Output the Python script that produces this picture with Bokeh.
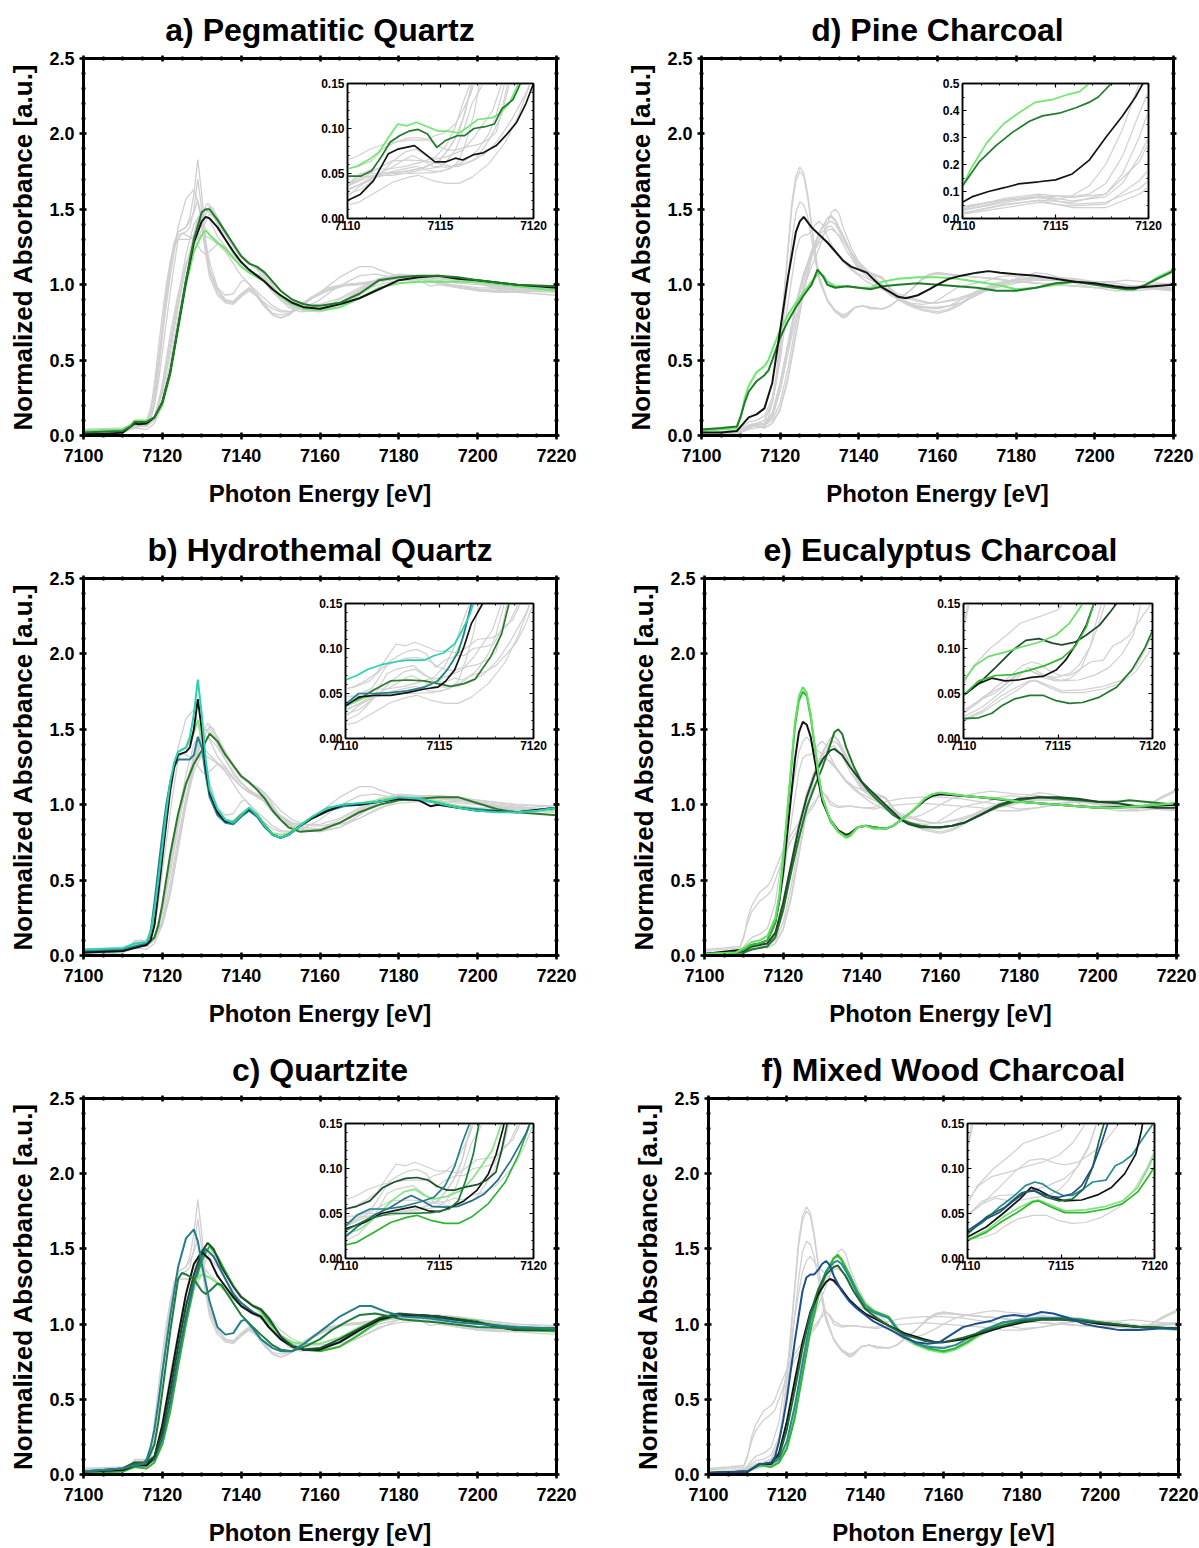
from bokeh.plotting import figure
from bokeh.models import (Range1d, LinearAxis, FixedTicker, PrintfTickFormatter,
                          CustomJSTickFormatter, GridBox)
from bokeh.layouts import column, row
from bokeh.embed import file_html
from bokeh.resources import INLINE

FONT = "Liberation Sans"

# ---------------- texts / ticks ----------------
TITLES = {"a": "a) Pegmatitic Quartz", "b": "b) Hydrothemal Quartz", "c": "c) Quartzite",
          "d": "d) Pine Charcoal", "e": "e) Eucalyptus Charcoal", "f": "f) Mixed Wood Charcoal"}
X_LABEL = "Photon Energy [eV]"
Y_LABEL = "Normalized Absorbance [a.u.]"
X_TICKS = [7100, 7120, 7140, 7160, 7180, 7200, 7220]
Y_TICKS = [0.0, 0.5, 1.0, 1.5, 2.0, 2.5]
INSET_X_TICKS = [7110, 7115, 7120]
INSET_Y_TICKS = [0.0, 0.05, 0.10, 0.15]
D_INSET_Y_TICKS = [0.0, 0.1, 0.2, 0.3, 0.4, 0.5]

# ---------------- a) Pegmatitic Quartz ----------------
A_BLACK = [(7100,0.01),(7105,0.01),(7110,0.02),(7112,0.06),(7113,0.08),(7114,0.075),(7116,0.08),(7118,0.12),(7120,0.22),(7122,0.42),(7124,0.72),(7126,1.02),(7128,1.28),(7130,1.42),(7131,1.45),(7132,1.44),(7134,1.38),(7136,1.30),(7138,1.22),(7140,1.15),(7142,1.10),(7144,1.06),(7146,1.02),(7148,0.97),(7150,0.93),(7153,0.88),(7156,0.85),(7160,0.84),(7165,0.87),(7170,0.91),(7175,0.97),(7180,1.03),(7185,1.05),(7190,1.06),(7195,1.04),(7200,1.03),(7210,1.0),(7220,0.98)]
A_DKGREEN = [(7100,0.02),(7110,0.03),(7112,0.06),(7113,0.09),(7114,0.09),(7116,0.09),(7118,0.12),(7120,0.22),(7122,0.42),(7124,0.72),(7126,1.03),(7128,1.3),(7130,1.48),(7131,1.5),(7132,1.5),(7134,1.43),(7136,1.35),(7138,1.27),(7140,1.19),(7142,1.14),(7144,1.12),(7146,1.08),(7148,1.02),(7150,0.96),(7153,0.9),(7156,0.87),(7158,0.86),(7160,0.86),(7165,0.88),(7170,0.94),(7175,1.03),(7180,1.05),(7185,1.06),(7190,1.06),(7195,1.05),(7200,1.03),(7210,1.0),(7220,0.99)]
A_LTGREEN = [(7100,0.03),(7110,0.04),(7112,0.07),(7113,0.1),(7114,0.1),(7116,0.1),(7118,0.12),(7120,0.2),(7122,0.4),(7124,0.7),(7126,1.0),(7128,1.22),(7130,1.33),(7131,1.36),(7132,1.33),(7134,1.28),(7136,1.24),(7138,1.18),(7140,1.12),(7142,1.08),(7144,1.05),(7146,1.02),(7148,0.97),(7150,0.92),(7153,0.87),(7156,0.84),(7160,0.83),(7165,0.85),(7170,0.91),(7175,0.98),(7180,1.01),(7185,1.02),(7190,1.02),(7195,1.02),(7200,1.02),(7210,0.99),(7220,0.96)]
A_LTGREEN_IN = [(7110,0.055),(7110.5,0.058),(7111.2,0.066),(7111.7,0.074),(7112.2,0.09),(7112.7,0.105),(7113.2,0.103),(7113.7,0.107),(7114.3,0.102),(7114.9,0.097),(7115.4,0.097),(7116,0.095),(7116.5,0.102),(7117,0.11),(7117.8,0.112),(7118.2,0.117),(7118.7,0.128),(7119.2,0.15),(7119.5,0.16)]
A_DKGREEN_IN = [(7110,0.047),(7110.7,0.047),(7111.3,0.053),(7111.8,0.068),(7112.3,0.085),(7112.8,0.092),(7113.3,0.097),(7113.8,0.099),(7114.3,0.094),(7114.8,0.079),(7115.3,0.087),(7115.9,0.092),(7116.3,0.092),(7116.8,0.1),(7117.4,0.102),(7117.9,0.105),(7118.3,0.122),(7118.9,0.132),(7119.3,0.15),(7119.6,0.165)]
A_BLACK_IN = [(7110,0.02),(7110.7,0.027),(7111.4,0.042),(7112.2,0.072),(7112.7,0.077),(7113.6,0.081),(7114.1,0.073),(7114.7,0.063),(7115.3,0.063),(7115.8,0.067),(7116.2,0.065),(7116.8,0.071),(7117.3,0.073),(7118,0.081),(7118.5,0.092),(7119.1,0.107),(7119.6,0.128),(7120,0.15)]

# ---------------- b) Hydrothermal Quartz ----------------
B_CYAN = [(7100,0.04),(7110,0.05),(7113,0.08),(7116,0.09),(7117,0.15),(7118,0.3),(7119,0.5),(7120,0.72),(7121,0.95),(7122,1.15),(7123,1.28),(7124,1.35),(7126,1.38),(7127,1.45),(7128,1.6),(7129,1.83),(7130,1.6),(7131,1.3),(7132,1.1),(7134,0.97),(7136,0.9),(7138,0.88),(7140,0.93),(7142,0.98),(7144,0.93),(7146,0.86),(7148,0.8),(7150,0.78),(7152,0.8),(7155,0.86),(7158,0.92),(7162,0.98),(7166,1.0),(7170,1.01),(7175,1.02),(7180,1.05),(7185,1.04),(7190,1.01),(7195,0.98),(7200,0.96),(7205,0.95),(7210,0.95),(7215,0.96),(7220,0.98)]
B_TEAL = [(7100,0.03),(7110,0.04),(7113,0.06),(7116,0.08),(7117,0.15),(7118,0.35),(7119,0.58),(7120,0.8),(7121,1.0),(7122,1.15),(7123,1.25),(7124,1.3),(7126,1.3),(7127,1.3),(7128,1.33),(7129,1.45),(7130,1.38),(7131,1.2),(7132,1.05),(7134,0.93),(7136,0.88),(7138,0.87),(7140,0.92),(7142,0.96),(7144,0.92),(7146,0.85),(7148,0.8),(7150,0.78),(7152,0.8),(7155,0.86),(7158,0.91),(7162,0.96),(7166,0.99),(7170,1.0),(7175,1.02),(7180,1.04),(7185,1.04),(7190,1.01),(7195,0.98),(7200,0.97),(7210,0.95),(7220,0.98)]
B_BLACK = [(7100,0.02),(7110,0.03),(7113,0.05),(7116,0.07),(7117,0.1),(7118,0.2),(7119,0.42),(7120,0.65),(7121,0.88),(7122,1.1),(7123,1.25),(7124,1.33),(7126,1.35),(7127,1.38),(7128,1.5),(7129,1.7),(7130,1.5),(7131,1.25),(7132,1.08),(7134,0.95),(7136,0.89),(7138,0.88),(7140,0.93),(7142,0.97),(7144,0.93),(7146,0.86),(7148,0.8),(7150,0.78),(7152,0.8),(7155,0.86),(7158,0.91),(7162,0.96),(7166,1.0),(7170,1.0),(7175,1.02),(7180,1.04),(7185,1.03),(7188,0.99),(7190,1.0),(7195,0.98),(7200,0.96),(7210,0.95),(7220,0.98)]
B_LTGREEN = [(7100,0.04),(7110,0.04),(7113,0.07),(7116,0.08),(7117,0.12),(7118,0.25),(7119,0.45),(7120,0.68),(7121,0.92),(7122,1.12),(7123,1.27),(7124,1.35),(7126,1.38),(7127,1.42),(7128,1.48),(7129,1.56),(7130,1.45),(7131,1.25),(7132,1.1),(7134,0.97),(7136,0.9),(7138,0.89),(7140,0.94),(7142,0.98),(7144,0.94),(7146,0.87),(7148,0.81),(7150,0.8),(7152,0.81),(7155,0.87),(7158,0.92),(7162,0.97),(7166,1.0),(7170,1.01),(7175,1.03),(7180,1.05),(7185,1.04),(7190,1.02),(7195,0.99),(7200,0.97),(7210,0.95),(7220,0.97)]
B_DKGREEN = [(7100,0.02),(7110,0.03),(7113,0.06),(7116,0.07),(7118,0.12),(7119,0.2),(7120,0.34),(7122,0.67),(7124,0.94),(7126,1.14),(7128,1.27),(7130,1.36),(7131,1.42),(7132,1.47),(7134,1.42),(7136,1.33),(7138,1.26),(7140,1.19),(7142,1.15),(7144,1.1),(7146,1.04),(7148,0.96),(7150,0.9),(7152,0.85),(7155,0.82),(7160,0.83),(7165,0.88),(7170,0.95),(7175,1.0),(7180,1.03),(7185,1.04),(7190,1.05),(7195,1.05),(7200,1.01),(7205,0.97),(7210,0.95),(7220,0.93)]
B_CYAN_IN = [(7110,0.065),(7110.6,0.07),(7111.2,0.077),(7111.9,0.082),(7112.6,0.085),(7113.3,0.087),(7114.2,0.087),(7114.7,0.092),(7115.2,0.095),(7115.8,0.105),(7116.2,0.12),(7116.6,0.137),(7116.8,0.15),(7117,0.16)]
B_TEAL_IN = [(7110,0.038),(7110.7,0.05),(7111.5,0.05),(7112.4,0.051),(7113.3,0.053),(7114.2,0.057),(7114.9,0.064),(7115.4,0.076),(7116,0.096),(7116.3,0.116),(7116.7,0.15),(7116.9,0.16)]
B_BLACK_IN = [(7110,0.036),(7110.7,0.046),(7111.5,0.048),(7112.4,0.048),(7113.3,0.051),(7114.2,0.055),(7114.9,0.057),(7115.3,0.063),(7115.8,0.076),(7116.3,0.102),(7116.7,0.128),(7117.3,0.15),(7117.5,0.16)]
B_LTGREEN_IN = [(7110,0.036),(7111,0.045),(7112,0.05),(7113,0.052),(7114,0.056),(7115,0.065),(7115.7,0.085),(7116.2,0.11),(7116.7,0.15),(7116.9,0.16)]
B_DKGREEN_IN = [(7110,0.036),(7110.8,0.045),(7111.6,0.055),(7112.4,0.064),(7113.3,0.065),(7114.2,0.064),(7114.9,0.061),(7115.6,0.058),(7116.3,0.061),(7116.9,0.066),(7117.7,0.09),(7118.3,0.116),(7118.7,0.15),(7118.9,0.16)]

# ---------------- c) Quartzite ----------------
C_VDKGREEN = [(7100,0.02),(7110,0.04),(7113,0.08),(7116,0.08),(7118,0.12),(7120,0.28),(7122,0.55),(7124,0.85),(7126,1.12),(7128,1.33),(7130,1.48),(7131.5,1.54),(7133,1.5),(7135,1.38),(7138,1.25),(7140,1.18),(7143,1.12),(7145,1.1),(7147,1.04),(7150,0.92),(7153,0.85),(7156,0.83),(7160,0.84),(7165,0.9),(7170,0.97),(7175,1.04),(7180,1.07),(7185,1.06),(7190,1.05),(7200,1.01),(7210,0.96),(7220,0.96)]
C_BLACK = [(7100,0.02),(7110,0.03),(7113,0.06),(7116,0.06),(7118,0.12),(7120,0.33),(7122,0.62),(7124,0.92),(7126,1.2),(7128,1.4),(7130,1.48),(7132,1.43),(7134,1.32),(7136,1.25),(7138,1.18),(7140,1.12),(7143,1.07),(7145,1.05),(7147,0.98),(7150,0.9),(7153,0.85),(7156,0.83),(7160,0.83),(7165,0.88),(7170,0.96),(7175,1.03),(7180,1.06),(7185,1.06),(7190,1.05),(7200,1.01),(7205,0.98),(7210,0.96),(7220,0.97)]
C_GREEN = [(7100,0.01),(7110,0.02),(7113,0.05),(7116,0.04),(7118,0.08),(7120,0.2),(7122,0.42),(7124,0.72),(7126,1.0),(7128,1.25),(7130,1.42),(7132,1.52),(7134,1.45),(7136,1.35),(7138,1.25),(7140,1.18),(7143,1.12),(7145,1.09),(7147,1.02),(7150,0.92),(7153,0.86),(7156,0.83),(7160,0.82),(7165,0.85),(7170,0.93),(7175,1.02),(7180,1.06),(7185,1.06),(7190,1.05),(7200,1.02),(7205,0.98),(7210,0.96),(7220,0.95)]
C_BLUETEAL = [(7100,0.02),(7110,0.03),(7113,0.07),(7116,0.06),(7118,0.1),(7120,0.24),(7122,0.48),(7124,0.78),(7126,1.05),(7128,1.28),(7130,1.45),(7131,1.5),(7133,1.45),(7135,1.35),(7138,1.2),(7140,1.14),(7143,1.08),(7145,1.05),(7147,0.98),(7150,0.9),(7153,0.85),(7156,0.83),(7160,0.84),(7165,0.88),(7170,0.96),(7175,1.03),(7180,1.06),(7185,1.05),(7190,1.04),(7200,1.01),(7205,0.99),(7210,0.97),(7220,0.97)]
C_LTGREEN = [(7100,0.02),(7110,0.03),(7113,0.07),(7116,0.07),(7118,0.12),(7120,0.3),(7122,0.58),(7124,0.88),(7126,1.12),(7128,1.28),(7130,1.33),(7132,1.31),(7134,1.27),(7136,1.22),(7138,1.17),(7140,1.12),(7143,1.08),(7145,1.06),(7147,1.0),(7150,0.92),(7153,0.88),(7156,0.87),(7160,0.87),(7165,0.91),(7170,0.98),(7175,1.04),(7180,1.06),(7185,1.05),(7190,1.04),(7200,1.01),(7210,0.98),(7220,0.97)]
C_TEAL = [(7100,0.02),(7110,0.04),(7113,0.06),(7115,0.07),(7116,0.1),(7117,0.18),(7118,0.3),(7119,0.48),(7120,0.68),(7122,1.05),(7124,1.38),(7126,1.57),(7128,1.63),(7129,1.55),(7130,1.4),(7132,1.15),(7134,0.98),(7136,0.93),(7138,0.94),(7140,1.02),(7141,1.03),(7143,0.97),(7145,0.9),(7148,0.84),(7150,0.82),(7153,0.82),(7156,0.87),(7160,0.95),(7165,1.05),(7170,1.12),(7173,1.12),(7177,1.08),(7181,1.05),(7187,1.04),(7195,1.01),(7200,1.0),(7210,0.98),(7220,0.97)]
C_DKGREEN = [(7100,0.02),(7110,0.04),(7113,0.07),(7116,0.08),(7118,0.2),(7119,0.35),(7120,0.55),(7122,0.95),(7124,1.3),(7125,1.34),(7126,1.33),(7128,1.3),(7130,1.22),(7131,1.2),(7132,1.22),(7134,1.27),(7135,1.26),(7137,1.18),(7140,1.06),(7143,0.98),(7145,0.93),(7148,0.86),(7150,0.83),(7153,0.82),(7157,0.86),(7160,0.9),(7163,0.96),(7167,1.02),(7170,1.06),(7174,1.07),(7178,1.05),(7181,1.03),(7190,1.01),(7200,0.98),(7210,0.97),(7220,0.96)]
C_VDKGREEN_IN = [(7110,0.055),(7110.6,0.058),(7111.3,0.064),(7112,0.079),(7112.6,0.085),(7113.2,0.089),(7113.8,0.09),(7114.4,0.087),(7114.9,0.08),(7115.4,0.076),(7115.8,0.076),(7116.3,0.079),(7117,0.082),(7117.5,0.087),(7118,0.096),(7118.3,0.12),(7118.6,0.15),(7118.8,0.16)]
C_TEAL_IN = [(7110,0.036),(7110.6,0.048),(7111.3,0.055),(7112.2,0.055),(7113.1,0.058),(7114,0.063),(7114.7,0.068),(7115.3,0.081),(7115.8,0.102),(7116.2,0.128),(7116.6,0.15),(7116.8,0.16)]
C_LTGREEN_IN = [(7110,0.027),(7110.8,0.033),(7111.7,0.048),(7112.4,0.063),(7113.1,0.074),(7113.7,0.077),(7114.2,0.07),(7114.7,0.066),(7115.4,0.069),(7116.2,0.076),(7116.8,0.09),(7117.2,0.102),(7117.8,0.12),(7118.3,0.15),(7118.5,0.16)]
C_BLUETEAL_IN = [(7110,0.024),(7110.6,0.035),(7111.5,0.048),(7112.4,0.057),(7113.1,0.066),(7113.5,0.07),(7114.1,0.064),(7114.6,0.058),(7115.3,0.057),(7116,0.058),(7116.7,0.064),(7117.4,0.072),(7118.1,0.087),(7118.8,0.109),(7119.6,0.139),(7119.8,0.15),(7120,0.155)]
C_BLACK_IN = [(7110,0.033),(7111,0.04),(7111.9,0.05),(7112.8,0.054),(7113.7,0.058),(7114.4,0.053),(7115,0.052),(7115.6,0.057),(7116.3,0.064),(7117,0.076),(7117.6,0.094),(7118,0.115),(7118.4,0.146),(7118.5,0.16)]
C_GREEN_IN = [(7110,0.015),(7110.6,0.018),(7111.5,0.029),(7112.4,0.04),(7113.3,0.046),(7113.8,0.048),(7114.6,0.042),(7115.3,0.039),(7116,0.039),(7116.7,0.046),(7117.6,0.061),(7118.5,0.085),(7119.2,0.115),(7119.7,0.143),(7119.9,0.155)]
C_DKGREEN_IN = [(7110,0.031),(7111.2,0.044),(7112.4,0.05),(7113.3,0.05),(7114.6,0.051),(7115.5,0.055),(7116,0.064),(7116.4,0.087),(7116.8,0.116),(7117.1,0.15),(7117.2,0.16)]

# ---------------- d) Pine Charcoal ----------------
D_BLACK = [(7100,0.02),(7105,0.02),(7109,0.03),(7110,0.06),(7112,0.12),(7114,0.14),(7116,0.18),(7118,0.35),(7120,0.7),(7122,1.05),(7124,1.35),(7125,1.42),(7126,1.45),(7128,1.38),(7130,1.33),(7132,1.28),(7134,1.22),(7136,1.16),(7138,1.12),(7140,1.1),(7142,1.08),(7144,1.03),(7146,0.98),(7148,0.95),(7150,0.92),(7152,0.91),(7155,0.93),(7158,0.97),(7160,1.0),(7163,1.04),(7166,1.06),(7170,1.08),(7173,1.09),(7176,1.08),(7180,1.07),(7185,1.06),(7190,1.04),(7195,1.02),(7200,1.01),(7205,0.99),(7208,0.98),(7210,0.98),(7215,0.99),(7220,1.0)]
D_LTGREEN = [(7100,0.03),(7105,0.04),(7109,0.05),(7110,0.12),(7111,0.25),(7112,0.33),(7114,0.42),(7116,0.46),(7117,0.5),(7118,0.57),(7120,0.7),(7122,0.8),(7124,0.88),(7126,0.95),(7128,1.02),(7130,1.08),(7131,1.06),(7132,1.02),(7134,0.99),(7137,0.99),(7140,0.98),(7143,0.98),(7146,1.02),(7150,1.04),(7155,1.05),(7160,1.05),(7165,1.04),(7170,1.02),(7175,1.0),(7180,0.97),(7185,0.98),(7190,1.0),(7195,1.02),(7200,1.01),(7205,0.98),(7208,0.97),(7210,0.97),(7213,1.0),(7216,1.05),(7220,1.1)]
D_DKGREEN = [(7100,0.04),(7105,0.05),(7109,0.06),(7110,0.13),(7111,0.22),(7112,0.29),(7114,0.36),(7116,0.4),(7117,0.43),(7118,0.5),(7120,0.65),(7122,0.76),(7124,0.85),(7126,0.93),(7128,1.0),(7129.5,1.1),(7131,1.05),(7132,1.0),(7134,0.98),(7137,0.99),(7140,0.98),(7143,0.97),(7146,0.99),(7150,1.0),(7155,1.01),(7160,1.0),(7165,0.99),(7170,0.98),(7175,0.96),(7180,0.96),(7185,0.98),(7190,1.01),(7195,1.02),(7200,1.0),(7205,0.98),(7208,0.97),(7210,0.97),(7213,1.0),(7216,1.04),(7220,1.09)]
D_LTGREEN_IN = [(7110,0.12),(7110.5,0.19),(7111.3,0.28),(7112.2,0.35),(7113,0.39),(7113.9,0.43),(7114.8,0.44),(7115.7,0.46),(7116.3,0.47),(7116.8,0.5),(7117.2,0.53)]
D_DKGREEN_IN = [(7110,0.12),(7110.9,0.21),(7111.8,0.27),(7112.7,0.32),(7113.6,0.36),(7114.3,0.38),(7115.2,0.39),(7116.1,0.41),(7116.8,0.43),(7117.3,0.45),(7118,0.5),(7118.3,0.53)]
D_BLACK_IN = [(7110,0.06),(7110.5,0.08),(7111.4,0.1),(7112.3,0.115),(7113,0.128),(7114.1,0.136),(7115,0.143),(7115.9,0.165),(7116.8,0.215),(7117.7,0.3),(7118.6,0.38),(7119.3,0.45),(7119.7,0.5),(7119.9,0.53)]
D_GREY_IN_1 = [(7110,0.03),(7112.3,0.066),(7114.1,0.078),(7115,0.072),(7116.8,0.09),(7117.7,0.13),(7118.6,0.23),(7119.5,0.39),(7120,0.47)]
D_GREY_IN_2 = [(7110,0.02),(7112.3,0.05),(7114.1,0.068),(7115.9,0.06),(7117.7,0.09),(7118.6,0.165),(7119.5,0.3),(7120,0.4)]
D_GREY_IN_3 = [(7110,0.035),(7112.3,0.076),(7114.1,0.09),(7115.9,0.078),(7117.7,0.09),(7119.5,0.21),(7120,0.28)]
D_GREY_IN_4 = [(7110,0.016),(7112.3,0.04),(7114.1,0.06),(7115.9,0.047),(7117.7,0.053),(7119.5,0.14),(7120,0.18)]
D_GREY_IN_5 = [(7110,0.03),(7112.3,0.06),(7114.1,0.078),(7115.9,0.053),(7117.7,0.06),(7119.5,0.11),(7120,0.14)]
D_GREY_IN_6 = [(7110,0.02),(7112.3,0.053),(7114.1,0.066),(7115.9,0.04),(7117.7,0.04),(7119.5,0.09),(7120,0.115)]
D_GREY_IN_7 = [(7110,0.04),(7112.3,0.07),(7114.1,0.085),(7115.9,0.065),(7117.7,0.08),(7118.6,0.13),(7119.5,0.23),(7120,0.3)]
D_GREY_IN_8 = [(7110,0.045),(7112.3,0.07),(7114.1,0.08),(7115.9,0.085),(7116.8,0.12),(7117.7,0.2),(7118.6,0.33),(7119.5,0.5)]

# ---------------- e) Eucalyptus Charcoal ----------------
E_LTGREEN = [(7100,0.01),(7108,0.02),(7110,0.05),(7112,0.09),(7114,0.1),(7116,0.13),(7118,0.25),(7119,0.4),(7120,0.65),(7121,0.95),(7122,1.25),(7123,1.55),(7124,1.72),(7125,1.78),(7126,1.74),(7127,1.6),(7128,1.4),(7129,1.2),(7130,1.05),(7132,0.9),(7134,0.82),(7136,0.78),(7137,0.79),(7139,0.85),(7141,0.86),(7143,0.84),(7146,0.84),(7148,0.86),(7150,0.9),(7153,0.96),(7156,1.04),(7158,1.07),(7160,1.08),(7163,1.07),(7166,1.06),(7170,1.05),(7175,1.04),(7180,1.02),(7185,1.01),(7190,1.0),(7195,0.99),(7200,0.98),(7205,0.98),(7210,0.99),(7215,1.0),(7220,1.01)]
E_MDGREEN = [(7100,0.01),(7108,0.02),(7110,0.04),(7112,0.07),(7114,0.08),(7116,0.1),(7118,0.22),(7119,0.37),(7120,0.62),(7121,0.92),(7122,1.22),(7123,1.52),(7124,1.69),(7125,1.75),(7126,1.72),(7127,1.58),(7128,1.39),(7129,1.19),(7130,1.04),(7132,0.89),(7134,0.82),(7136,0.79),(7137,0.8),(7139,0.85),(7141,0.86),(7143,0.85),(7146,0.84),(7148,0.86),(7150,0.9),(7153,0.96),(7156,1.04),(7158,1.07),(7160,1.08),(7163,1.07),(7166,1.06),(7170,1.05),(7175,1.04),(7180,1.02),(7185,1.01),(7190,1.0),(7195,0.99),(7200,0.98),(7205,0.98),(7210,0.99),(7215,1.0),(7220,1.01)]
E_BLACK = [(7100,0.01),(7110,0.04),(7112,0.07),(7114,0.08),(7116,0.1),(7118,0.22),(7119,0.36),(7120,0.55),(7121,0.8),(7122,1.05),(7123,1.3),(7124,1.48),(7125,1.55),(7126,1.53),(7127,1.45),(7128,1.3),(7129,1.15),(7130,1.02),(7132,0.9),(7134,0.83),(7136,0.8),(7137,0.81),(7139,0.85),(7141,0.86),(7143,0.85),(7146,0.84),(7148,0.86),(7150,0.9),(7153,0.96),(7156,1.03),(7158,1.06),(7160,1.07),(7165,1.06),(7170,1.05),(7180,1.02),(7190,1.0),(7200,0.98),(7210,0.99),(7220,1.0)]
E_DKGREEN = [(7100,0.01),(7110,0.02),(7112,0.04),(7114,0.05),(7116,0.06),(7118,0.12),(7120,0.3),(7122,0.55),(7124,0.78),(7126,0.98),(7128,1.12),(7130,1.25),(7132,1.4),(7133,1.48),(7134,1.5),(7135,1.47),(7136,1.38),(7138,1.25),(7140,1.15),(7142,1.08),(7144,1.03),(7146,0.98),(7148,0.93),(7150,0.9),(7152,0.88),(7155,0.86),(7158,0.85),(7160,0.85),(7163,0.86),(7166,0.88),(7170,0.93),(7175,0.99),(7180,1.03),(7185,1.05),(7190,1.04),(7195,1.03),(7200,1.02),(7205,1.02),(7208,1.03),(7212,1.02),(7220,1.0)]
E_DKBLACK = [(7100,0.01),(7110,0.03),(7112,0.06),(7114,0.07),(7116,0.08),(7118,0.15),(7120,0.35),(7122,0.6),(7124,0.85),(7126,1.05),(7128,1.2),(7130,1.3),(7132,1.36),(7133,1.37),(7135,1.33),(7137,1.25),(7140,1.15),(7142,1.1),(7144,1.05),(7146,1.0),(7148,0.95),(7150,0.9),(7152,0.87),(7155,0.85),(7158,0.85),(7160,0.85),(7163,0.86),(7166,0.88),(7170,0.93),(7175,1.0),(7180,1.04),(7185,1.05),(7190,1.05),(7195,1.04),(7200,1.02),(7205,1.01),(7210,0.99),(7215,0.98),(7220,0.98)]
E_LTGREEN_IN = [(7110,0.064),(7110.6,0.081),(7111.3,0.091),(7112.2,0.096),(7113.1,0.102),(7114,0.107),(7114.9,0.115),(7115.6,0.128),(7116.1,0.143),(7116.3,0.15),(7116.5,0.16)]
E_MDGREEN_IN = [(7110,0.048),(7110.8,0.064),(7111.7,0.07),(7112.6,0.071),(7113.5,0.076),(7114.3,0.081),(7115.2,0.089),(7115.9,0.102),(7116.5,0.124),(7116.9,0.15),(7117,0.155)]
E_BLACK_IN = [(7110,0.048),(7110.8,0.061),(7111.5,0.067),(7112.2,0.064),(7112.9,0.065),(7113.6,0.068),(7114.2,0.069),(7114.9,0.076),(7115.4,0.087),(7115.9,0.103),(7116.5,0.126),(7116.9,0.15),(7117,0.155)]
E_DKGREEN_IN = [(7110,0.022),(7110.8,0.023),(7111.5,0.028),(7112,0.036),(7112.7,0.044),(7113.5,0.048),(7114.2,0.048),(7114.9,0.042),(7115.6,0.039),(7116.3,0.04),(7117.2,0.046),(7118.1,0.057),(7118.9,0.076),(7119.6,0.101),(7120,0.12)]
E_DKBLACK_IN = [(7110,0.048),(7110.8,0.061),(7111.7,0.079),(7112.6,0.098),(7113.3,0.109),(7114,0.111),(7114.7,0.106),(7115.2,0.104),(7115.9,0.107),(7116.5,0.115),(7117.2,0.126),(7117.7,0.139),(7118.1,0.15),(7118.3,0.155)]

# ---------------- f) Mixed Wood Charcoal ----------------
F_NAVY = [(7100,0.01),(7110,0.02),(7113,0.07),(7114,0.07),(7116,0.08),(7117,0.12),(7118,0.22),(7119,0.35),(7120,0.5),(7122,0.88),(7124,1.22),(7125,1.31),(7126,1.33),(7127,1.33),(7128,1.36),(7129,1.4),(7130,1.42),(7131,1.39),(7132,1.32),(7134,1.22),(7136,1.15),(7138,1.1),(7140,1.06),(7142,1.02),(7145,0.98),(7148,0.94),(7150,0.91),(7153,0.88),(7156,0.87),(7159,0.88),(7162,0.93),(7165,0.98),(7168,1.0),(7172,1.02),(7175,1.05),(7178,1.06),(7181,1.05),(7185,1.08),(7188,1.07),(7192,1.04),(7196,1.0),(7200,0.98),(7205,0.96),(7210,0.96),(7215,0.97),(7220,0.97)]
F_BLACK = [(7100,0.01),(7110,0.02),(7113,0.07),(7114,0.07),(7116,0.07),(7118,0.14),(7120,0.35),(7122,0.62),(7124,0.88),(7126,1.08),(7128,1.2),(7130,1.28),(7131,1.3),(7132,1.29),(7134,1.23),(7136,1.16),(7138,1.11),(7140,1.07),(7143,1.03),(7146,0.99),(7150,0.94),(7155,0.9),(7158,0.88),(7160,0.88),(7165,0.9),(7170,0.94),(7175,0.98),(7180,1.01),(7185,1.03),(7190,1.03),(7195,1.02),(7200,1.0),(7210,0.98),(7220,0.97)]
F_DKGREEN = [(7100,0.01),(7110,0.02),(7113,0.07),(7114,0.07),(7116,0.08),(7118,0.12),(7120,0.3),(7122,0.56),(7124,0.84),(7126,1.07),(7128,1.23),(7130,1.33),(7132,1.38),(7133,1.39),(7135,1.32),(7137,1.22),(7140,1.1),(7143,1.04),(7146,0.99),(7150,0.93),(7155,0.89),(7158,0.88),(7160,0.88),(7165,0.91),(7170,0.95),(7175,0.99),(7180,1.02),(7185,1.03),(7190,1.03),(7200,1.01),(7210,0.98),(7220,0.97)]
F_GREEN = [(7100,0.01),(7110,0.02),(7113,0.06),(7114,0.06),(7116,0.05),(7118,0.08),(7120,0.17),(7122,0.37),(7124,0.66),(7126,0.95),(7128,1.18),(7130,1.34),(7132,1.44),(7133,1.46),(7134,1.43),(7136,1.33),(7138,1.22),(7140,1.13),(7142,1.09),(7144,1.07),(7146,1.05),(7148,0.98),(7150,0.92),(7153,0.87),(7156,0.84),(7160,0.82),(7163,0.84),(7166,0.88),(7170,0.95),(7175,1.01),(7180,1.03),(7185,1.04),(7190,1.04),(7195,1.03),(7200,1.01),(7210,0.98),(7220,0.97)]
F_LTGREEN = [(7100,0.01),(7110,0.02),(7113,0.06),(7114,0.06),(7116,0.05),(7118,0.08),(7120,0.18),(7122,0.39),(7124,0.68),(7126,0.97),(7128,1.2),(7130,1.35),(7132,1.44),(7133,1.45),(7134,1.42),(7136,1.32),(7138,1.21),(7140,1.12),(7142,1.08),(7144,1.06),(7146,1.04),(7148,0.97),(7150,0.91),(7153,0.86),(7156,0.83),(7160,0.81),(7163,0.83),(7166,0.87),(7170,0.94),(7175,1.0),(7180,1.03),(7185,1.04),(7190,1.04),(7195,1.03),(7200,1.01),(7210,0.98),(7220,0.96)]
F_TEAL = [(7100,0.01),(7110,0.02),(7113,0.07),(7114,0.07),(7116,0.07),(7118,0.1),(7120,0.22),(7122,0.45),(7124,0.74),(7126,1.02),(7128,1.22),(7130,1.35),(7132,1.41),(7133,1.42),(7134,1.4),(7136,1.31),(7138,1.2),(7140,1.11),(7142,1.08),(7144,1.06),(7146,1.04),(7148,0.97),(7150,0.92),(7153,0.87),(7156,0.85),(7160,0.84),(7163,0.86),(7166,0.9),(7170,0.96),(7175,1.01),(7180,1.03),(7185,1.04),(7190,1.04),(7195,1.03),(7200,1.01),(7210,0.98),(7220,0.97)]
F_TEAL_IN = [(7110,0.029),(7110.8,0.04),(7111.7,0.057),(7112.4,0.068),(7113.1,0.081),(7113.6,0.085),(7114,0.083),(7114.5,0.076),(7115.1,0.07),(7115.6,0.07),(7116.1,0.076),(7116.7,0.085),(7117.4,0.087),(7117.9,0.103),(7118.3,0.107),(7118.8,0.115),(7119.3,0.131),(7119.8,0.146),(7120,0.152)]
F_NAVY_IN = [(7110,0.031),(7110.8,0.042),(7111.7,0.051),(7112.4,0.063),(7113.1,0.074),(7113.6,0.075),(7114.2,0.07),(7114.9,0.068),(7115.6,0.072),(7116.1,0.081),(7116.7,0.102),(7117.1,0.124),(7117.5,0.15),(7117.6,0.16)]
F_DKGREEN_IN = [(7110,0.027),(7111,0.046),(7112,0.057),(7112.9,0.073),(7113.5,0.076),(7114.2,0.068),(7114.9,0.064),(7115.6,0.066),(7116.2,0.077),(7116.7,0.102),(7117,0.128),(7117.3,0.15),(7117.4,0.16)]
F_BLACK_IN = [(7110,0.024),(7111,0.035),(7111.9,0.05),(7112.8,0.066),(7113.4,0.079),(7113.8,0.076),(7114.5,0.068),(7115.2,0.064),(7116.1,0.065),(7117,0.071),(7117.7,0.079),(7118.4,0.094),(7119,0.116),(7119.3,0.142),(7119.4,0.155)]
F_GREEN_IN = [(7110,0.02),(7111,0.029),(7111.9,0.042),(7112.8,0.053),(7113.5,0.063),(7113.8,0.064),(7114.5,0.057),(7115.2,0.051),(7116.3,0.051),(7117.4,0.055),(7118.3,0.061),(7119.1,0.074),(7119.7,0.092),(7120,0.102)]
F_LTGREEN_IN = [(7110,0.021),(7111,0.031),(7111.9,0.046),(7112.8,0.057),(7113.5,0.064),(7113.8,0.065),(7114.5,0.059),(7115.2,0.053),(7116.3,0.054),(7117.4,0.058),(7118.3,0.064),(7119.1,0.079),(7119.7,0.102),(7120,0.116)]

# ---------------- styles ----------------
BLACK = "#141414"
GREY = "#d0d0d0"
CURVES = {
    "a": [(A_LTGREEN, A_LTGREEN_IN, "#6ee86e"), (A_BLACK, A_BLACK_IN, BLACK), (A_DKGREEN, A_DKGREEN_IN, "#1f7a2a")],
    "b": [(B_DKGREEN, B_DKGREEN_IN, "#2a7a2a"), (B_LTGREEN, B_LTGREEN_IN, "#86e486"), (B_TEAL, B_TEAL_IN, "#2a7f94"),
          (B_BLACK, B_BLACK_IN, BLACK), (B_CYAN, B_CYAN_IN, "#2cd0b2")],
    "c": [(C_GREEN, C_GREEN_IN, "#2db52d"), (C_LTGREEN, C_LTGREEN_IN, "#80e680"), (C_BLUETEAL, C_BLUETEAL_IN, "#246e8c"),
          (C_BLACK, C_BLACK_IN, BLACK), (C_VDKGREEN, C_VDKGREEN_IN, "#1c4f2c"), (C_DKGREEN, C_DKGREEN_IN, "#1e7d3a"),
          (C_TEAL, C_TEAL_IN, "#23808a")],
    "d": [(D_LTGREEN, D_LTGREEN_IN, "#6ee86e"), (D_DKGREEN, D_DKGREEN_IN, "#1f7a2a"), (D_BLACK, D_BLACK_IN, BLACK)],
    "e": [(E_DKGREEN, E_DKGREEN_IN, "#1f7a2a"), (E_DKBLACK, E_DKBLACK_IN, "#1d4a2a"), (E_BLACK, E_BLACK_IN, BLACK),
          (E_MDGREEN, E_MDGREEN_IN, "#33bb33"), (E_LTGREEN, E_LTGREEN_IN, "#66e066")],
    "f": [(F_LTGREEN, F_LTGREEN_IN, "#7ee27e"), (F_GREEN, F_GREEN_IN, "#2fb82f"), (F_TEAL, F_TEAL_IN, "#2a8a9a"),
          (F_BLACK, F_BLACK_IN, BLACK), (F_DKGREEN, F_DKGREEN_IN, "#1f6a30"), (F_NAVY, F_NAVY_IN, "#1e4f8e")],
}
D_GREY_IN = [D_GREY_IN_1, D_GREY_IN_2, D_GREY_IN_3, D_GREY_IN_4, D_GREY_IN_5, D_GREY_IN_6, D_GREY_IN_7, D_GREY_IN_8]
GROUPS = {"a": "bc", "b": "ac", "c": "ab", "d": "ef", "e": "df", "f": "de"}

# layout: panel size, frame box (L, R, T, B), inset frame box (L, R, T, B)
GEOM = {
    "a": (600, 520, (83, 556, 58, 435), (347, 533, 83, 218)),
    "b": (600, 520, (83, 556, 58, 435), (345, 533, 83, 218)),
    "c": (600, 508, (83, 556, 58, 435), (345, 533, 83, 218)),
    "d": (599, 520, (101, 573, 58, 435), (362, 548, 83, 218)),
    "e": (599, 520, (104, 576, 58, 435), (363, 552, 83, 218)),
    "f": (599, 508, (108, 578, 58, 435), (367, 554, 83, 218)),
}


def xy(d):
    return [p[0] for p in d], [p[1] for p in d]


def frange(a, b, step):
    n = int(round((b - a) / step))
    return [round(a + i * step, 4) for i in range(n + 1)]


def hidden_labels(ax):
    ax.formatter = CustomJSTickFormatter(code="return ''")
    ax.major_label_text_font_size = "1px"
    ax.major_label_standoff = 0


def style_axis(ax, lw, maj, mnr, tw, mtw, font_px=None):
    ax.axis_line_width = lw
    ax.axis_line_color = "black"
    ax.major_tick_in, ax.major_tick_out = maj
    ax.minor_tick_in, ax.minor_tick_out = mnr
    ax.major_tick_line_width = tw
    ax.minor_tick_line_width = mtw
    ax.major_tick_line_color = "black"
    ax.minor_tick_line_color = "black"
    if font_px:
        ax.major_label_text_font = FONT
        ax.major_label_text_font_size = font_px
        ax.major_label_text_font_style = "bold"
        ax.major_label_text_color = "black"


def main_fig(key):
    W, H, (L, R, T, B), _ = GEOM[key]
    p = figure(width=W, height=H, x_range=Range1d(7100, 7220), y_range=Range1d(0, 2.5),
               output_backend="svg", toolbar_location=None, title=TITLES[key],
               min_border_left=L, min_border_right=W - R, min_border_top=T, min_border_bottom=H - B)
    p.xgrid.visible = False
    p.ygrid.visible = False
    p.background_fill_color = "white"
    p.border_fill_color = "white"
    p.outline_line_color = "black"
    p.outline_line_width = 3
    p.title.text_font = FONT
    p.title.text_font_size = "32px"
    p.title.text_font_style = "bold"
    p.title.text_color = "black"
    p.title.align = "center"
    p.title.standoff = 15

    xt = FixedTicker(ticks=X_TICKS, minor_ticks=frange(7100, 7220, 5))
    yt = FixedTicker(ticks=Y_TICKS, minor_ticks=frange(0, 2.5, 0.1))
    xa = p.xaxis[0]
    ya = p.yaxis[0]
    xa.ticker = xt
    ya.ticker = yt
    xa.formatter = PrintfTickFormatter(format="%.0f")
    ya.formatter = PrintfTickFormatter(format="%.1f")
    style_axis(xa, 3, (3, 4), (2, 2), 2.5, 2, "18px")
    style_axis(ya, 3, (3, 4), (2, 2), 2.5, 2, "18px")
    xa.major_label_standoff = 9
    ya.major_label_standoff = 5
    xa.axis_label = X_LABEL
    ya.axis_label = Y_LABEL
    for ax in (xa, ya):
        ax.axis_label_text_font = FONT
        ax.axis_label_text_font_style = "bold"
        ax.axis_label_text_color = "black"
    xa.axis_label_text_font_size = "24px"
    ya.axis_label_text_font_size = "26px"
    xa.axis_label_standoff = 15
    ya.axis_label_standoff = 8

    top = LinearAxis(ticker=xt)
    right = LinearAxis(ticker=yt)
    for ax in (top, right):
        style_axis(ax, 3, (3, 3), (2, 2), 2.5, 2)
        hidden_labels(ax)
    p.add_layout(top, "above")
    p.add_layout(right, "right")

    for other in GROUPS[key]:
        for main, _, _ in CURVES[other]:
            x, y = xy(main)
            p.line(x, y, line_color=GREY, line_width=1.3)
    for main, _, col in CURVES[key]:
        x, y = xy(main)
        p.line(x, y, line_color=col, line_width=2)
    return p


ILB, IRB, ITB, IBB = 36, 18, 6, 20


def inset_fig(key):
    _, _, _, (L, R, T, B) = GEOM[key]
    is_d = key == "d"
    ytop = 0.5 if is_d else 0.15
    q = figure(width=R - L + ILB + IRB, height=B - T + ITB + IBB,
               x_range=Range1d(7110, 7120), y_range=Range1d(0, ytop),
               output_backend="svg", toolbar_location=None,
               min_border_left=ILB, min_border_right=IRB, min_border_top=ITB, min_border_bottom=IBB)
    q.xgrid.visible = False
    q.ygrid.visible = False
    q.background_fill_color = "white"
    q.border_fill_color = None
    q.outline_line_color = "black"
    q.outline_line_width = 1.5
    xt = FixedTicker(ticks=INSET_X_TICKS, minor_ticks=frange(7110, 7120, 1))
    if is_d:
        yt = FixedTicker(ticks=D_INSET_Y_TICKS, minor_ticks=frange(0, 0.5, 0.05))
        yfmt = "%.1f"
    else:
        yt = FixedTicker(ticks=INSET_Y_TICKS, minor_ticks=frange(0, 0.15, 0.01))
        yfmt = "%.2f"
    xa = q.xaxis[0]
    ya = q.yaxis[0]
    xa.ticker = xt
    ya.ticker = yt
    xa.formatter = PrintfTickFormatter(format="%.0f")
    ya.formatter = PrintfTickFormatter(format=yfmt)
    style_axis(xa, 1.5, (4, 0), (2, 0), 1.2, 1, "12px")
    style_axis(ya, 1.5, (4, 0), (2, 0), 1.2, 1, "12px")
    xa.major_label_standoff = 2
    ya.major_label_standoff = 3
    top = LinearAxis(ticker=xt)
    right = LinearAxis(ticker=yt)
    for ax in (top, right):
        style_axis(ax, 1.5, (4, 0), (2, 0), 1.2, 1)
        hidden_labels(ax)
    q.add_layout(top, "above")
    q.add_layout(right, "right")

    if is_d:
        greys = D_GREY_IN
    else:
        greys = [c[1] for o in GROUPS[key] for c in CURVES[o]]
    for g in greys:
        x, y = xy(g)
        q.line(x, y, line_color=GREY, line_width=1.2)
    for _, ins, col in CURVES[key]:
        x, y = xy(ins)
        q.line(x, y, line_color=col, line_width=1.7)
    return q


def panel(key):
    W, H, _, (L, R, T, B) = GEOM[key]
    p = main_fig(key)
    q = inset_fig(key)
    iw = R - L + ILB + IRB
    ih = B - T + ITB + IBB
    c0 = L - ILB
    r0 = T - ITB
    cols = [f"{c0}px", f"{iw}px", f"{W - c0 - iw}px"]
    rows = [f"{r0}px", f"{ih}px", f"{H - r0 - ih}px"]
    return GridBox(children=[(p, 0, 0, 3, 3), (q, 1, 1, 1, 1)], rows=rows, cols=cols, spacing=0)


layout = column(row(panel("a"), panel("d")), row(panel("b"), panel("e")), row(panel("c"), panel("f")))

with open("out.html", "w") as fh:
    fh.write(file_html(layout, INLINE, title="XANES spectra"))
